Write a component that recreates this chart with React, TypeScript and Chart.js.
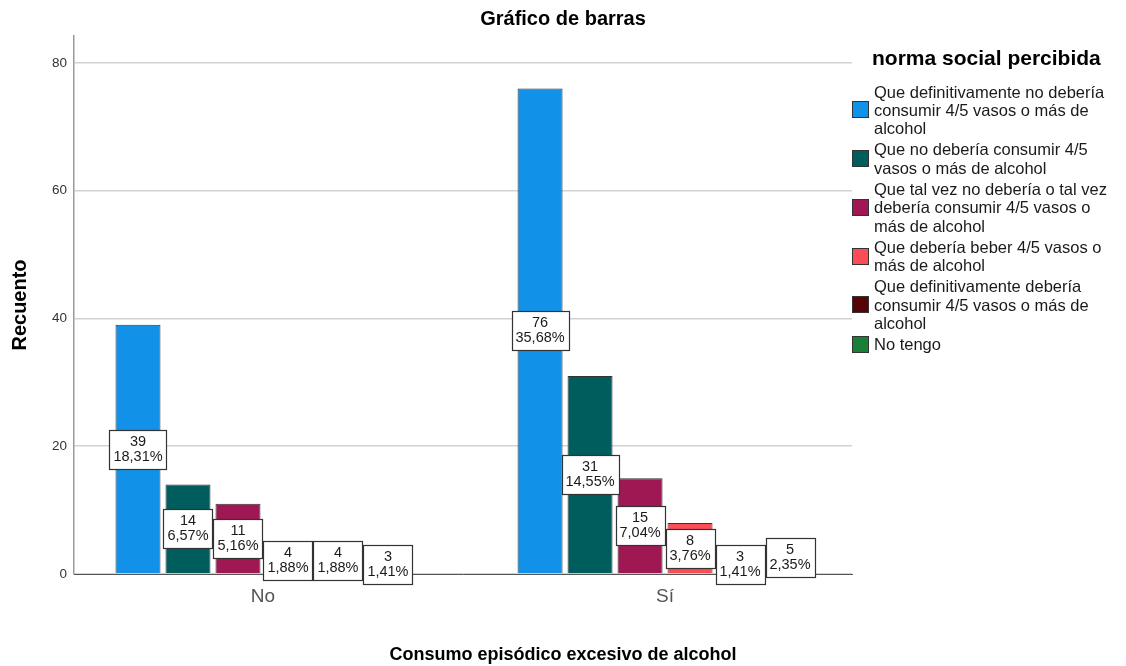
import React, { useEffect, useRef } from 'react';
import { Chart, registerables } from 'chart.js';

Chart.register(...registerables);

const FONT = '"Liberation Sans", Arial, Helvetica, sans-serif';

// ---- Data ----
const categories = ['No', 'Sí'];
const seriesNames = [
  'Que definitivamente no debería\nconsumir 4/5 vasos o más de\nalcohol',
  'Que no debería consumir 4/5\nvasos o más de alcohol',
  'Que tal vez no debería o tal vez\ndebería consumir 4/5 vasos o\nmás de alcohol',
  'Que debería beber 4/5 vasos o\nmás de alcohol',
  'Que definitivamente debería\nconsumir 4/5 vasos o más de\nalcohol',
  'No tengo',
];
const seriesColors = ['#1192e8', '#005d5d', '#9f1853', '#fa4d56', '#570408', '#198038'];
const definitivamenteNo = [39, 76];
const noDeberia = [14, 31];
const talVez = [11, 15];
const deberiaBeber = [4, 8];
const definitivamenteSi = [4, 3];
const noTengo = [3, 5];
const seriesValues = [definitivamenteNo, noDeberia, talVez, deberiaBeber, definitivamenteSi, noTengo];
const yTicks = [0, 20, 40, 60, 80];

const chartTitle = 'Gráfico de barras';
const xTitle = 'Consumo episódico excesivo de alcohol';
const yTitle = 'Recuento';
const legendTitle = 'norma social percibida';

const grandTotal = seriesValues.reduce((s, arr) => s + arr.reduce((a, b) => a + b, 0), 0);

const valueLabels = {
  id: 'valueLabels',
  afterDatasetsDraw(chart: any) {
    const ctx = chart.ctx as CanvasRenderingContext2D;
    ctx.save();
    ctx.font = `14.5px ${FONT}`;
    chart.data.datasets.forEach((ds: any, i: number) => {
      const meta = chart.getDatasetMeta(i);
      meta.data.forEach((el: any, j: number) => {
        const v = ds.data[j].y as number;
        const pct = ((v / grandTotal) * 100).toFixed(2).replace('.', ',') + '%';
        const lines = [String(v), pct];
        const w = Math.round(Math.max(...lines.map((l) => ctx.measureText(l).width)) + 8);
        const h = 39;
        const cx = el.x;
        const cy = (el.y + el.base) / 2;
        const x0 = Math.round(cx - w / 2) + 0.5;
        const y0 = Math.round(cy - h / 2) + 0.5;
        ctx.fillStyle = '#ffffff';
        ctx.fillRect(x0, y0, w, h);
        ctx.strokeStyle = '#333333';
        ctx.lineWidth = 1.2;
        ctx.strokeRect(x0, y0, w, h);
        ctx.fillStyle = '#1a1a1a';
        ctx.textAlign = 'center';
        ctx.textBaseline = 'middle';
        ctx.fillText(lines[0], cx, cy - 7.5);
        ctx.fillText(lines[1], cx, cy + 7.5);
      });
    });
    ctx.restore();
  },
};

export default function App() {
  const ref = useRef<HTMLCanvasElement>(null);

  useEffect(() => {
    if (!ref.current) return;
    const datasets = seriesValues.map((vals, i) => ({
      label: seriesNames[i].replace(/\n/g, ' '),
      data: vals.map((v, k) => ({ x: k, y: v })),
      backgroundColor: seriesColors[i],
      borderColor: '#333333',
      borderWidth: 1,
      categoryPercentage: 0.746,
      barPercentage: 0.9,
    }));
    const chart = new Chart(ref.current, {
      type: 'bar',
      data: { datasets },
      plugins: [valueLabels],
      options: {
        responsive: false,
        animation: false,
        devicePixelRatio: 1,
        events: [],
        layout: { padding: 0 },
        plugins: {
          legend: { display: false },
          tooltip: { enabled: false },
          title: {
            display: true,
            text: chartTitle,
            color: '#000',
            font: { family: FONT, size: 20, weight: 'bold' },
            padding: { top: 7, bottom: 5 },
          },
          subtitle: {
            display: true,
            position: 'bottom',
            text: xTitle,
            color: '#000',
            font: { family: FONT, size: 18, weight: 'bold' },
            padding: { top: 30, bottom: 0 },
          },
        },
        scales: {
          x: {
            type: 'linear',
            offset: false,
            min: -0.47,
            max: 1.465,
            afterBuildTicks: (scale: any) => {
              scale.ticks = categories.map((_, i) => ({ value: i }));
            },
            afterFit: (scale: any) => {
              scale.height = 40.4;
            },
            ticks: {
              callback: (v: any) => categories[v as number] ?? '',
              color: '#555',
              font: { family: FONT, size: 19 },
              padding: 11,
              maxRotation: 0,
              autoSkip: false,
            },
            grid: { display: false, drawTicks: false },
            border: { display: true, color: '#555', width: 1 },
          },
          y: {
            min: 0,
            max: 84.2,
            afterBuildTicks: (scale: any) => {
              scale.ticks = yTicks.map((v) => ({ value: v }));
            },
            afterFit: (scale: any) => {
              scale.width = 74;
            },
            ticks: {
              color: '#333',
              font: { family: FONT, size: 13.5 },
              padding: 7,
            },
            grid: { color: '#d2d2d2', lineWidth: 1.5, drawTicks: false },
            border: { display: true, color: '#9a9a9a', width: 1.5 },
            title: {
              display: true,
              text: yTitle,
              color: '#000',
              font: { family: FONT, size: 20, weight: 'bold' },
              padding: { top: 8, bottom: 0 },
            },
          },
          legendSpace: {
            type: 'linear',
            position: 'right',
            display: true,
            min: 0,
            max: 1,
            afterBuildTicks: (scale: any) => {
              scale.ticks = [];
            },
            afterFit: (scale: any) => {
              scale.width = 274;
            },
            ticks: { display: false },
            grid: { display: false, drawTicks: false },
            border: { display: false },
          },
        },
      } as any,
    });
    return () => chart.destroy();
  }, []);

  return (
    <div
      style={{
        position: 'fixed',
        left: 0,
        top: 0,
        width: 1126,
        height: 666,
        background: '#ffffff',
        fontFamily: FONT,
      }}
    >
      <canvas
        ref={ref}
        width={1126}
        height={666}
        style={{ position: 'absolute', left: 0, top: 0, width: 1126, height: 666 }}
      />
      <div
        style={{
          position: 'absolute',
          left: 872,
          top: 46,
          fontSize: 21,
          fontWeight: 'bold',
          lineHeight: '24px',
          color: '#000',
          whiteSpace: 'nowrap',
        }}
      >
        {legendTitle}
      </div>
      <div style={{ position: 'absolute', left: 852, top: 82.5 }}>
        {seriesNames.map((name, i) => (
          <div key={i} style={{ display: 'flex', alignItems: 'center', marginBottom: 3 }}>
            <div
              style={{
                width: 15,
                height: 15,
                background: seriesColors[i],
                border: '1px solid #333',
                marginRight: 5,
                flexShrink: 0,
              }}
            />
            <div
              style={{
                fontSize: 16.5,
                lineHeight: '18.3px',
                color: '#1a1a1a',
                whiteSpace: 'pre',
              }}
            >
              {name}
            </div>
          </div>
        ))}
      </div>
    </div>
  );
}
